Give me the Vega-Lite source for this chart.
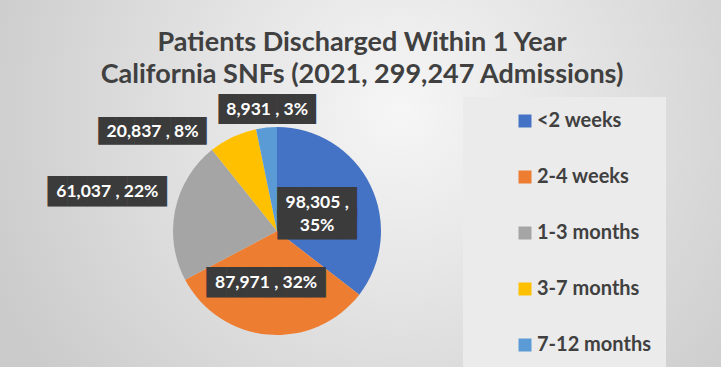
{
  "$schema": "https://vega.github.io/schema/vega-lite/v6.json",
  "width": 888,
  "height": 462,
  "autosize": "none",
  "padding": {"top": 0, "left": -167, "right": 0, "bottom": -95},
  "background": "#d6d6d6",
  "title": {
    "text": ["Patients Discharged Within 1 Year", "California SNFs (2021, 299,247 Admissions)"],
    "font": "Lato",
    "fontSize": 27,
    "fontWeight": "bold",
    "color": "#404040",
    "lineHeight": 32,
    "anchor": "middle",
    "frame": "group",
    "dx": 85,
    "offset": -89
  },
  "data": {
    "values": [
      {"category": "<2 weeks", "value": 98305, "order": 1, "label": "98,305 ,\n35%"},
      {"category": "2-4 weeks", "value": 87971, "order": 2, "label": "87,971 , 32%"},
      {"category": "1-3 months", "value": 61037, "order": 3, "label": "61,037 , 22%"},
      {"category": "3-7 months", "value": 20837, "order": 4, "label": "20,837 , 8%"},
      {"category": "7-12 months", "value": 8931, "order": 5, "label": "8,931 , 3%"}
    ]
  },
  "layer": [
    {
      "data": {"values": [{"panel": "background"}]},
      "mark": {
        "type": "arc", "theta": 0, "theta2": 6.2832, "outerRadius": 520, "clip": true,
        "fill": {
          "gradient": "radial",
          "x1": 0.618, "y1": 0.384, "r1": 0,
          "x2": 0.618, "y2": 0.384, "r2": 0.423,
          "stops": [
            {"offset": 0, "color": "#f6f6f6"},
            {"offset": 1, "color": "#cbcbcb"}
          ]
        }
      },
      "encoding": {}
    },
    {
      "encoding": {
        "theta": {"field": "value", "type": "quantitative", "stack": true},
        "order": {"field": "order", "type": "quantitative"},
        "detail": {"field": "category", "type": "nominal"}
      },
      "layer": [
        {
          "mark": {"type": "arc", "outerRadius": 104},
          "encoding": {
            "color": {
              "field": "category",
              "type": "nominal",
              "scale": {
                "domain": ["<2 weeks", "2-4 weeks", "1-3 months", "3-7 months", "7-12 months"],
                "range": ["#4472C4", "#ED7D31", "#A5A5A5", "#FFC000", "#5B9BD5"]
              },
              "legend": {
                "title": null,
                "orient": "none",
                "legendX": 630,
                "legendY": 97,
                "fillColor": "#ebebeb",
                "padding": 14,
                "symbolType": "square",
                "symbolSize": 169,
                "symbolStrokeWidth": 0,
                "symbolOffset": 38,
                "labelFont": "Lato",
                "labelFontSize": 20,
                "labelFontWeight": "bold",
                "labelColor": "#404040",
                "labelOffset": 2,
                "rowPadding": 36
              }
            }
          }
        },
        {
          "mark": {"type": "text", "radius": 49, "thetaOffset": -0.155, "font": "DejaVu Sans", "fontSize": 25.8, "color": "#3b3b3b", "align": "center", "baseline": "middle", "lineBreak": "\n", "lineHeight": 22},
          "encoding": {"text": {"condition": {"test": "datum.category === '<2 weeks'", "value": "████\n████"}, "value": ""}}
        },
        {
          "mark": {"type": "text", "radius": 53, "thetaOffset": 0.122, "font": "DejaVu Sans", "fontSize": 25.8, "color": "#3b3b3b", "align": "center", "baseline": "middle"},
          "encoding": {"text": {"condition": {"test": "datum.category === '2-4 weeks'", "value": "██████"}, "value": ""}}
        },
        {
          "mark": {"type": "text", "radius": 174, "thetaOffset": 0.02, "font": "DejaVu Sans", "fontSize": 25.8, "color": "#3b3b3b", "align": "center", "baseline": "middle"},
          "encoding": {"text": {"condition": {"test": "datum.category === '1-3 months'", "value": "██████"}, "value": ""}}
        },
        {
          "mark": {"type": "text", "radius": 159, "thetaOffset": -0.46, "font": "DejaVu Sans", "fontSize": 23.4, "color": "#3b3b3b", "align": "center", "baseline": "middle"},
          "encoding": {"text": {"condition": {"test": "datum.category === '3-7 months'", "value": "██████"}, "value": ""}}
        },
        {
          "mark": {"type": "text", "radius": 121, "thetaOffset": 0.02, "font": "DejaVu Sans", "fontSize": 25.3, "color": "#3b3b3b", "align": "center", "baseline": "middle"},
          "encoding": {"text": {"condition": {"test": "datum.category === '7-12 months'", "value": "█████"}, "value": ""}}
        },
        {
          "mark": {"type": "text", "radius": 49, "thetaOffset": -0.155, "font": "Lato", "fontSize": 17.5, "fontWeight": "bold", "color": "white", "align": "center", "baseline": "middle", "lineBreak": "\n", "lineHeight": 23},
          "encoding": {"text": {"condition": {"test": "datum.category === '<2 weeks'", "field": "label"}, "value": ""}}
        },
        {
          "mark": {"type": "text", "radius": 53, "thetaOffset": 0.122, "font": "Lato", "fontSize": 17.5, "fontWeight": "bold", "color": "white", "align": "center", "baseline": "middle"},
          "encoding": {"text": {"condition": {"test": "datum.category === '2-4 weeks'", "field": "label"}, "value": ""}}
        },
        {
          "mark": {"type": "text", "radius": 174, "thetaOffset": 0.02, "font": "Lato", "fontSize": 17.5, "fontWeight": "bold", "color": "white", "align": "center", "baseline": "middle"},
          "encoding": {"text": {"condition": {"test": "datum.category === '1-3 months'", "field": "label"}, "value": ""}}
        },
        {
          "mark": {"type": "text", "radius": 159, "thetaOffset": -0.46, "font": "Lato", "fontSize": 17.5, "fontWeight": "bold", "color": "white", "align": "center", "baseline": "middle"},
          "encoding": {"text": {"condition": {"test": "datum.category === '3-7 months'", "field": "label"}, "value": ""}}
        },
        {
          "mark": {"type": "text", "radius": 121, "thetaOffset": 0.02, "font": "Lato", "fontSize": 17.5, "fontWeight": "bold", "color": "white", "align": "center", "baseline": "middle"},
          "encoding": {"text": {"condition": {"test": "datum.category === '7-12 months'", "field": "label"}, "value": ""}}
        }
      ]
    }
  ],
  "config": {"view": {"stroke": null}}
}
